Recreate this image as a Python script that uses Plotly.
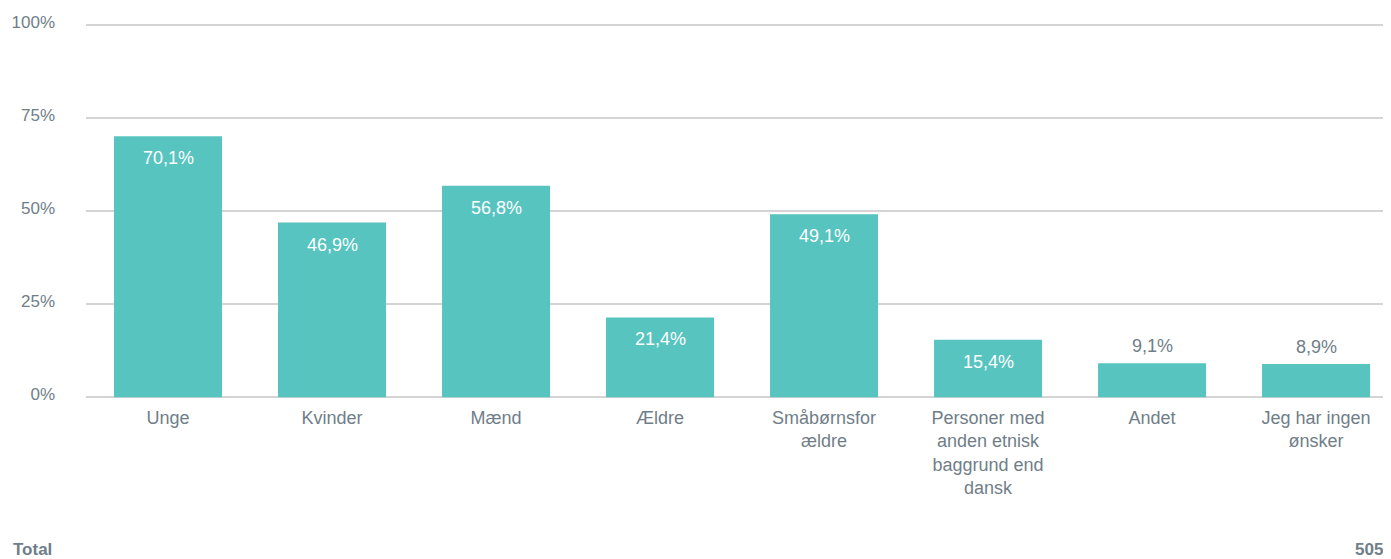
import plotly.graph_objects as go

categories = ["Unge", "Kvinder", "Mænd", "Ældre", "Småbørnsforældre",
              "Personer med anden etnisk baggrund end dansk", "Andet", "Jeg har ingen ønsker"]
tick_labels = ["Unge", "Kvinder", "Mænd", "Ældre", "Småbørnsfor<br>ældre",
               "Personer med<br>anden etnisk<br>baggrund end<br>dansk", "Andet", "Jeg har ingen<br>ønsker"]
values = [70.1, 46.9, 56.8, 21.4, 49.1, 15.4, 9.1, 8.9]
value_labels = ["70,1%", "46,9%", "56,8%", "21,4%", "49,1%", "15,4%", "9,1%", "8,9%"]
y_ticks = [0, 25, 50, 75, 100]
y_tick_labels = ["0%", "25%", "50%", "75%", "100%"]
total_n = "505"

FONT = "Liberation Sans, Arial, sans-serif"
TXT = "#6f7e89"
BAR = "#57c4c0"

x_idx = list(range(len(categories)))

fig = go.Figure()
fig.add_trace(go.Bar(
    x=x_idx, y=values, width=0.6585, marker=dict(color=BAR, line=dict(width=0)),
    hovertext=categories, hoverinfo="text+y",
))

for i, (v, lab) in enumerate(zip(values, value_labels)):
    inside = v >= 12
    fig.add_annotation(
        x=i, y=v, xref="x", yref="y", text=lab, showarrow=False,
        yanchor="middle", yshift=-22 if inside else 17,
        font=dict(family=FONT, size=18, color="white" if inside else TXT),
    )

fig.add_annotation(x=0, y=0, xref="paper", yref="paper", xanchor="left", yanchor="middle",
                   text="<b>Total</b>", showarrow=False, xshift=-75, yshift=-150,
                   font=dict(family=FONT, size=17, color=TXT))
fig.add_annotation(x=1, y=0, xref="paper", yref="paper", xanchor="right", yanchor="middle",
                   text="<b>" + total_n + "</b>", showarrow=False, xshift=-6, yshift=-150,
                   font=dict(family=FONT, size=17, color=TXT))

fig.update_layout(
    width=1383, height=551,
    margin=dict(l=78, r=0, t=15, b=160, pad=0),
    paper_bgcolor="white", plot_bgcolor="white",
    showlegend=False,
    font=dict(family=FONT, size=18, color=TXT),
    xaxis=dict(
        tickmode="array", tickvals=x_idx, ticktext=tick_labels,
        range=[-0.5, 7.457], showgrid=False, zeroline=False, showline=False,
        ticks="", ticklabelstandoff=6, tickfont=dict(family=FONT, size=18, color=TXT),
        fixedrange=True,
    ),
    yaxis=dict(
        tickmode="array", tickvals=y_ticks, ticktext=y_tick_labels,
        range=[-0.5, 100.5], showgrid=True, gridcolor="#d4d4d4", gridwidth=2,
        zeroline=False, showline=False, ticks="", ticklabelstandoff=30,
        ticklabelshift=-3,
        tickfont=dict(family=FONT, size=17, color=TXT), fixedrange=True,
    ),
)

fig.write_html("out.html")
